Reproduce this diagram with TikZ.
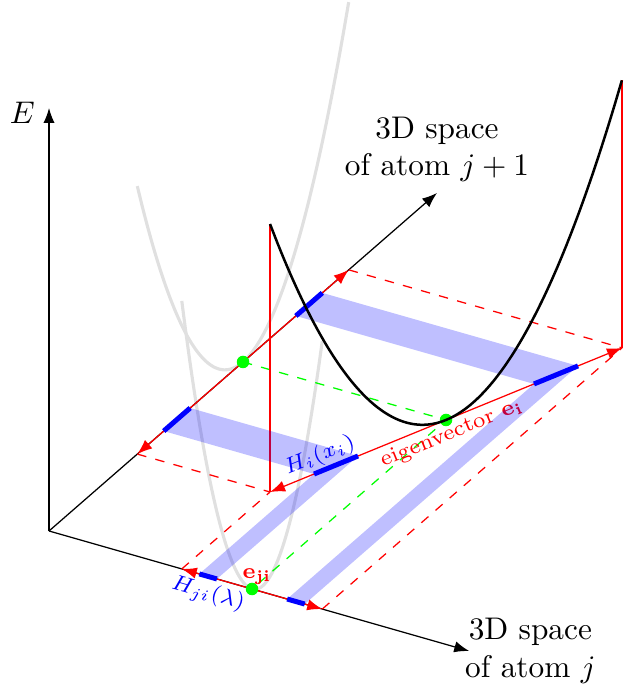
\documentclass[tikz,border=0pt]{standalone}
\usepackage{amsmath,amssymb}
\usetikzlibrary{arrows.meta}

\begin{document}
\begin{tikzpicture}[x={(64.86pt,-18.53pt)},y={(61.98pt,54pt)},z={(0pt,31.95pt)},
  axis/.style={-{Latex}},
  proj/.style={red,-{Latex}},
  guide/.style={red,dashed},
  greenguide/.style={green,dashed},
  band/.style={fill=blue,fill opacity=.25},
  seg/.style={blue,line width=1.6pt},
  ghost/.style={black!12,line width=1pt},
  greendot/.style={fill=green}]
\useasboundingbox (-15.66pt,-51.44pt) rectangle (186.91pt,169.65pt);
\coordinate (O) at (0,0,0);
\coordinate (P) at (1,1,0);
\coordinate (Jc) at (1,0,0);
\coordinate (Kc) at (0,1,0);
\coordinate (Ep) at (1.346,1.545,0);
\coordinate (Em) at (.654,.455,0);
\coordinate (Jp) at (1.346,0,0);
\coordinate (Jm) at (.654,0,0);
\coordinate (Kp) at (0,1.545,0);
\coordinate (Km) at (0,.455,0);
\coordinate (Ept) at (1.346,1.545,2.68);
\coordinate (Emt) at (.654,.455,2.68);
\coordinate (Xend) at (2.07,0,0);
\coordinate (Yend) at (0,2,0);
\coordinate (Zend) at (0,0,4.23);
\draw[ghost] plot[domain=-1:1,samples=40,smooth] (0,{1+.545*\x},{2.68*\x*\x});
\draw[ghost] plot[domain=-1:1,samples=40,smooth] ({1+.346*\x},0,{2.68*\x*\x});
\draw[axis] (O) -- (Zend);
\draw[axis] (O) -- (Xend);
\draw[axis] (O) -- (Yend);
\node[left=1pt,yshift=-1.6pt] (lblE) at (Zend) {$E$};
\node[right,inner sep=0pt,xshift=-1.5pt,align=center] (lblj) at (Xend) {3D space\\of atom $j$};
\node[above,align=center] (lbljj) at (Yend) {3D space\\of atom $j+1$};
\draw[guide] (Kp) -- (Ep) (Km) -- (Em) (Jm) -- (Em) (Jp) -- (Ep);
\draw[greenguide] (Kc) -- (P) -- (Jc);
\draw[red] (Em) -- (Emt) (Ep) -- (Ept);
\foreach \a/\b in {P/Ep,P/Em,Jc/Jp,Jc/Jm,Kc/Kp,Kc/Km}
  \draw[proj] (\a) -- (\b);
\path (P) -- (Ep) node[pos=0,below,sloped,red,font=\scriptsize,inner sep=1.5pt] (lbleig) {eigenvector $\mathbf{e_i}$};
\foreach \s in {1,-1} {
  \fill[band] (0,{1+.2725*(\s)},0) -- (0,{1+.40875*(\s)},0) -- ({1+.2595*(\s)},{1+.40875*(\s)},0) -- ({1+.173*(\s)},{1+.2725*(\s)},0) -- cycle;
  \fill[band] ({1+.173*(\s)},0,0) -- ({1+.2595*(\s)},0,0) -- ({1+.2595*(\s)},{1+.40875*(\s)},0) -- ({1+.173*(\s)},{1+.2725*(\s)},0) -- cycle;
  \draw[seg] ({1+.173*(\s)},{1+.2725*(\s)},0) -- ({1+.2595*(\s)},{1+.40875*(\s)},0);
  \draw[seg] (0,{1+.2725*(\s)},0) -- (0,{1+.40875*(\s)},0);
  \draw[seg] ({1+.173*(\s)},0,0) -- ({1+.2595*(\s)},0,0);
}
\path (.7405,.59125,0) -- (.827,.7275,0) node[pos=.26,above,sloped,blue,font=\scriptsize,inner sep=1pt] (lblHi) {$H_i(x_i)$};
\path (.7405,0,0) -- (.827,0,0) node[pos=.76,below,sloped,blue,font=\scriptsize,inner sep=1.5pt] (lblHji) {$H_{ji}(\lambda)$};
\foreach \c in {P,Jc,Kc}
  \fill[greendot] (\c) circle (2pt);
\draw[thick] plot[domain=-1:1,samples=50,smooth] ({1+.346*\x},{1+.545*\x},{2.68*\x*\x});
\node[red,font=\scriptsize,anchor=base] (lbleji) at ([shift={(1.6pt,3.5pt)}]Jc) {$\mathbf{e_{ji}}$};
\end{tikzpicture}
\end{document}
